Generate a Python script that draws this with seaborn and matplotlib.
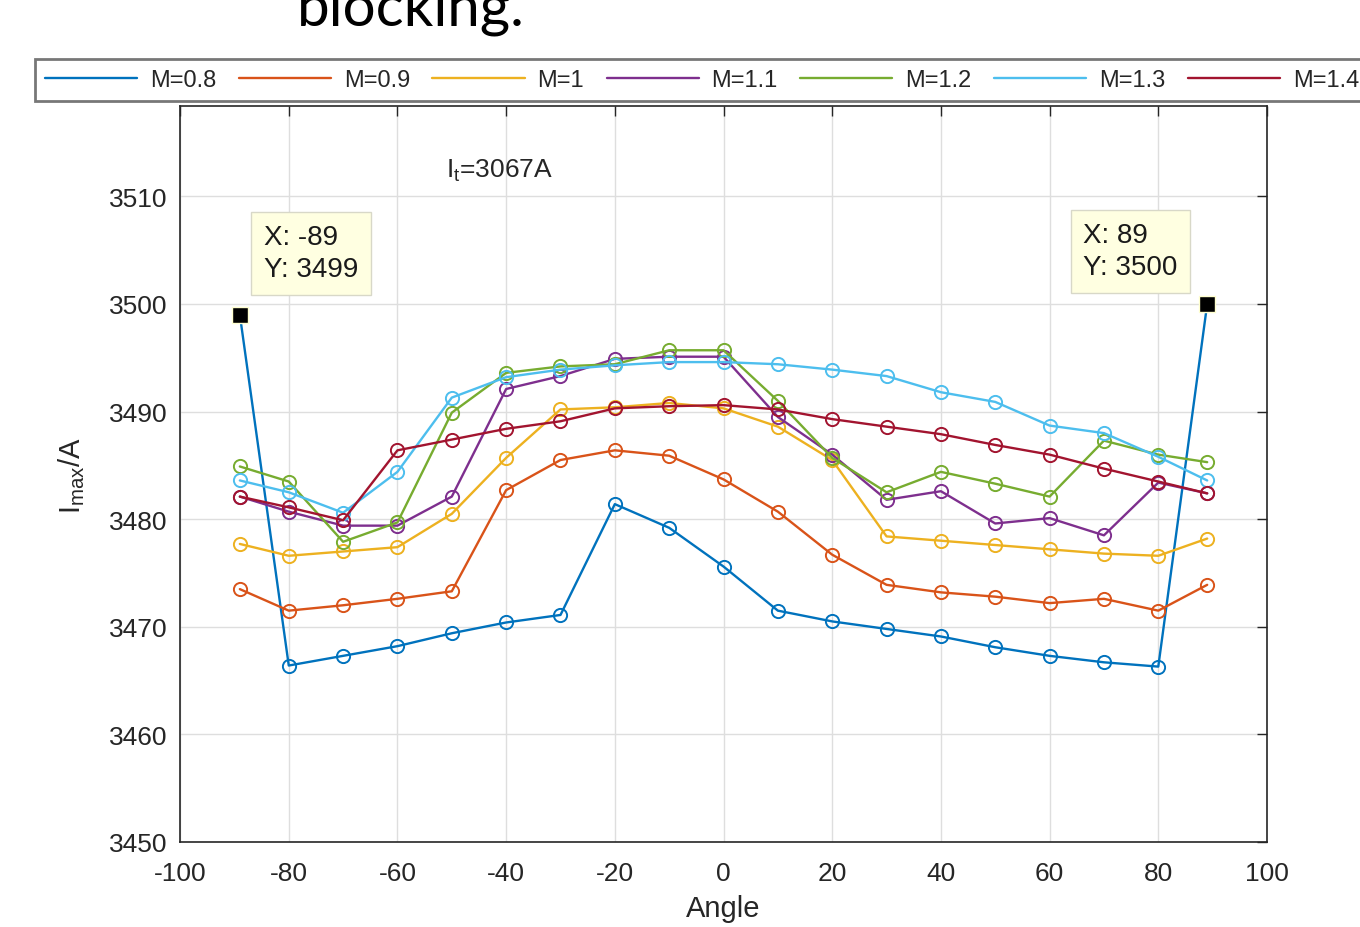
import numpy as np
import pandas as pd
import seaborn as sns
import matplotlib.pyplot as plt
from matplotlib.lines import Line2D

angles = [-89, -80, -70, -60, -50, -40, -30, -20, -10, 0, 10, 20, 30, 40, 50, 60, 70, 80, 89]

m08 = [3499.0, 3466.4, 3467.3, 3468.2, 3469.4, 3470.4, 3471.1, 3481.4, 3479.2, 3475.6,
       3471.5, 3470.5, 3469.8, 3469.1, 3468.1, 3467.3, 3466.7, 3466.3, 3500.0]
m09 = [3473.5, 3471.5, 3472.0, 3472.6, 3473.3, 3482.7, 3485.5, 3486.4, 3485.9, 3483.7,
       3480.7, 3476.7, 3473.9, 3473.2, 3472.8, 3472.2, 3472.6, 3471.5, 3473.9]
m10 = [3477.7, 3476.6, 3477.0, 3477.4, 3480.5, 3485.7, 3490.2, 3490.4, 3490.8, 3490.3,
       3488.6, 3485.5, 3478.4, 3478.0, 3477.6, 3477.2, 3476.8, 3476.6, 3478.2]
m11 = [3482.1, 3480.7, 3479.4, 3479.4, 3482.1, 3492.1, 3493.3, 3494.9, 3495.1, 3495.1,
       3489.5, 3486.0, 3481.8, 3482.6, 3479.6, 3480.1, 3478.5, 3483.4, 3482.4]
m12 = [3484.9, 3483.5, 3477.9, 3479.7, 3489.9, 3493.6, 3494.2, 3494.4, 3495.7, 3495.7,
       3491.0, 3485.7, 3482.5, 3484.4, 3483.3, 3482.1, 3487.3, 3486.0, 3485.3]
m13 = [3483.6, 3482.5, 3480.6, 3484.4, 3491.3, 3493.2, 3493.9, 3494.3, 3494.6, 3494.6,
       3494.4, 3493.9, 3493.3, 3491.8, 3490.9, 3488.7, 3488.0, 3485.8, 3483.6]
m14 = [3482.1, 3481.1, 3479.9, 3486.4, 3487.4, 3488.4, 3489.1, 3490.3, 3490.5, 3490.6,
       3490.2, 3489.3, 3488.6, 3487.9, 3486.9, 3486.0, 3484.7, 3483.5, 3482.4]

labels = ['M=0.8', 'M=0.9', 'M=1', 'M=1.1', 'M=1.2', 'M=1.3', 'M=1.4']
colors = ['#0072BD', '#D95319', '#EDB120', '#7E2F8E', '#77AC30', '#4DBEEE', '#A2142F']

series = [m08, m09, m10, m11, m12, m13, m14]
df = pd.concat([pd.DataFrame({'Angle': angles, 'Imax': s, 'M': lab})
                for s, lab in zip(series, labels)], ignore_index=True)

sns.set_style('white')
plt.rcParams['font.family'] = ['Liberation Sans', 'DejaVu Sans']
plt.rcParams['mathtext.fontset'] = 'custom'
plt.rcParams['mathtext.rm'] = 'Liberation Sans'
plt.rcParams['mathtext.it'] = 'Liberation Sans'
plt.rcParams['axes.unicode_minus'] = False

fig = plt.figure(figsize=(13.6, 9.28), dpi=100)
ax = fig.add_axes([0.1324, 0.0916, 0.7992, 0.7931])

sns.lineplot(data=df, x='Angle', y='Imax', hue='M', hue_order=labels,
             palette=colors, marker='o', markersize=9.5, linewidth=1.7,
             legend=False, ax=ax)
for line in ax.lines:
    line.set_markerfacecolor('none')
    line.set_markeredgecolor(line.get_color())
    line.set_markeredgewidth(1.4)

ax.set_xlim(-100, 100)
ax.set_ylim(3450, 3518.4)
ax.set_xticks(np.arange(-100, 101, 20))
ax.set_yticks(np.arange(3450, 3511, 10))
ax.grid(True, color='#dedede', linewidth=1)
ax.tick_params(direction='in', top=True, right=True, length=7, width=1,
               labelsize=19, colors='#262626')
ax.tick_params(axis='x', pad=14)
ax.tick_params(axis='y', pad=9)
for sp in ax.spines.values():
    sp.set_color('#262626')
    sp.set_linewidth(1.2)

ax.set_xlabel('Angle', fontsize=21, color='#262626', labelpad=6)
ax.set_ylabel(r'I$_{\mathrm{max}}$/A', fontsize=21, color='#262626', labelpad=16)

ax.text(-51, 3512.5, r'I$_{\mathrm{t}}$=3067A', fontsize=19, color='#262626',
        ha='left', va='center')

# data tips
tip_box = dict(boxstyle='square,pad=0.45', facecolor='#FFFFE1', edgecolor='#d8d8c8')
ax.plot([-89, 89], [3499, 3500], linestyle='none', marker='s', markersize=12,
        color='black', markeredgecolor='#ffffd0', zorder=5)
ax.text(-84.6, 3507.4, 'X: -89\nY: 3499', fontsize=20, color='#1a1a1a',
        ha='left', va='top', linespacing=1.3, bbox=tip_box, zorder=6)
ax.text(66.2, 3507.6, 'X: 89\nY: 3500', fontsize=20, color='#1a1a1a',
        ha='left', va='top', linespacing=1.3, bbox=tip_box, zorder=6)

handles = [Line2D([], [], color=c, linewidth=1.7) for c in colors]
leg = fig.legend(handles, labels, loc='upper left', bbox_to_anchor=(35 / 1360, 1 - 60 / 928),
                 ncol=7, fontsize=17, frameon=True, fancybox=False, borderaxespad=0,
                 handlelength=3.9, handletextpad=0.55, columnspacing=0.95,
                 borderpad=0.42)
leg.get_frame().set_edgecolor('#555555')
leg.get_frame().set_linewidth(2)
for t in leg.get_texts():
    t.set_color('#262626')

# caption fragment cut at the top of the slide
fig.text(297 / 1360, 1 - 26 / 928, 'blocking.', fontsize=42, family='Lato',
         ha='left', va='baseline', color='black')

fig.savefig('out.png', dpi=100)
